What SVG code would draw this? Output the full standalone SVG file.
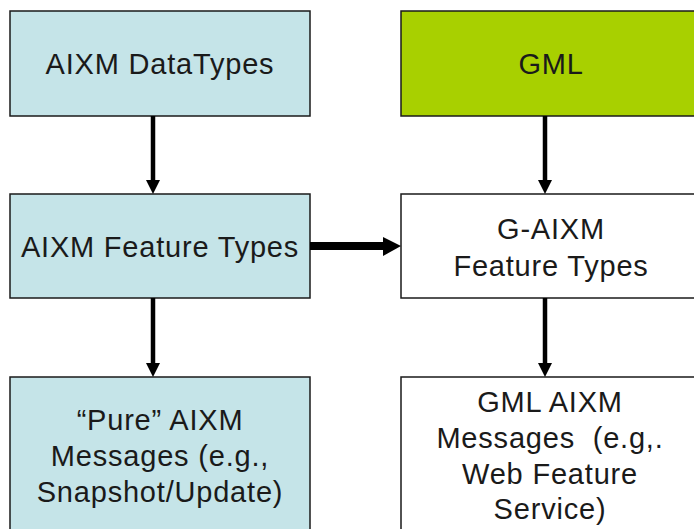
<svg xmlns="http://www.w3.org/2000/svg" width="694" height="529" viewBox="0 0 694 529">
<style>
.box{stroke:#1a1a1a;stroke-width:1.5}
.blue{fill:#C5E4E8}
.green{fill:#A8D000}
.white{fill:#FFFFFF}
text{font-family:"Liberation Sans",Arial,sans-serif;font-size:29px;fill:#1a1a1a;text-anchor:middle;letter-spacing:0.8px}
.conn{stroke:#000;stroke-width:4.5;fill:none}
.head{fill:#000}
</style>
<rect width="694" height="529" fill="#FFFFFF"/>
<g id="node-aixm-datatypes">
<rect class="box blue" x="10" y="11" width="300" height="105"/>
<text x="160" y="74">AIXM DataTypes</text>
</g>
<g id="node-gml">
<rect class="box green" x="401" y="11" width="300" height="105"/>
<text x="551" y="74">GML</text>
</g>
<g id="node-aixm-feature-types">
<rect class="box blue" x="10" y="194" width="300" height="104"/>
<text x="160" y="257">AIXM Feature Types</text>
</g>
<g id="node-g-aixm-feature-types">
<rect class="box white" x="401" y="194" width="300" height="104"/>
<text x="551" y="239">G-AIXM</text>
<text x="551" y="276">Feature Types</text>
</g>
<g id="node-pure-aixm-messages">
<rect class="box blue" x="10" y="377" width="300" height="170"/>
<text x="160" y="430">“Pure” AIXM</text>
<text x="160" y="466">Messages (e.g.,</text>
<text x="160" y="502">Snapshot/Update)</text>
</g>
<g id="node-gml-aixm-messages">
<rect class="box white" x="401" y="377" width="300" height="170"/>
<text x="550" y="412">GML AIXM</text>
<text x="550" y="448">Messages&#160; (e.g,.</text>
<text x="550" y="484">Web Feature</text>
<text x="550" y="519">Service)</text>
</g>
<g id="connectors">
<line class="conn" x1="153" y1="116" x2="153" y2="181"/>
<polygon class="head" points="146,180 160,180 153,194"/>
<line class="conn" x1="545" y1="116" x2="545" y2="181"/>
<polygon class="head" points="538,180 552,180 545,194"/>
<line class="conn" x1="153" y1="298" x2="153" y2="364"/>
<polygon class="head" points="146,363 160,363 153,377"/>
<line class="conn" x1="545" y1="298" x2="545" y2="364"/>
<polygon class="head" points="538,363 552,363 545,377"/>
<line x1="310" y1="246" x2="384" y2="246" stroke="#000" stroke-width="8"/>
<polygon class="head" points="383,237 401,246 383,256"/>
</g>
</svg>
